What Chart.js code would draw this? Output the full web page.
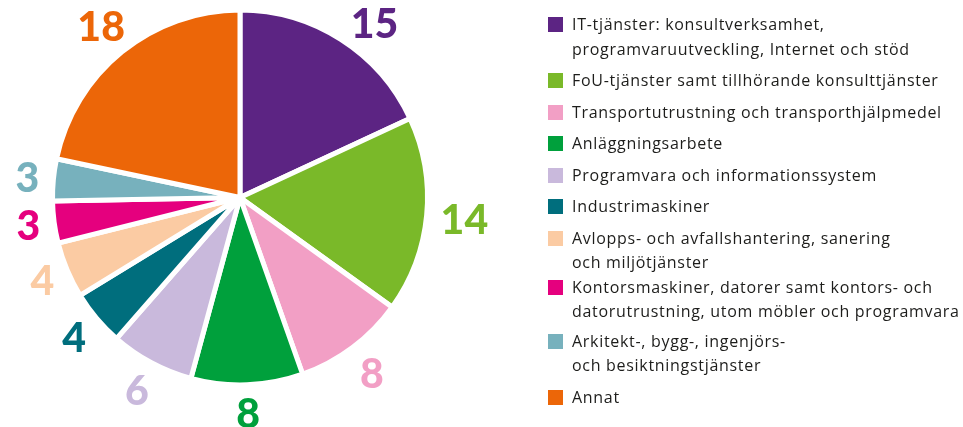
<!DOCTYPE html>
<html lang="sv">
<head>
<meta charset="utf-8">
<script src="https://cdn.jsdelivr.net/npm/chart.js@4/dist/chart.umd.min.js"></script>
<style>
  html, body { margin: 0; padding: 0; background: #ffffff; }
  #wrap { position: relative; width: 963px; height: 427px; overflow: hidden; }
  #chart { position: absolute; left: 0; top: 0; }
  #legend {
    position: absolute; left: 548px; top: 12px; margin: 0; padding: 0; list-style: none;
    font-family: "Open Sans", "Noto Sans", sans-serif; font-size: 16px; line-height: 24.5px;
    letter-spacing: 0.7px; color: #1d1d1b;
  }
  #legend li { position: relative; padding-left: 24px; margin-bottom: 7px; white-space: pre-line; }
  #legend li:nth-child(7) { margin-bottom: 0; }
  #legend li:nth-child(8) { margin-bottom: 5px; }
  #legend li span.sw { position: absolute; left: 0; top: 5px; width: 15px; height: 15px; }
</style>
</head>
<body>
<div id="wrap">
  <canvas id="chart" width="963" height="427"></canvas>
  <ul id="legend"></ul>
</div>
<script>
// Branschkategorier (legend text, line breaks as printed)
const categories = [
  "IT-tjänster: konsultverksamhet,\nprogramvaruutveckling, Internet och stöd",
  "FoU-tjänster samt tillhörande konsulttjänster",
  "Transportutrustning och transporthjälpmedel",
  "Anläggningsarbete",
  "Programvara och informationssystem",
  "Industrimaskiner",
  "Avlopps- och avfallshantering, sanering\noch miljötjänster",
  "Kontorsmaskiner, datorer samt kontors- och\ndatorutrustning, utom möbler och programvara",
  "Arkitekt-, bygg-, ingenjörs-\noch besiktningstjänster",
  "Annat"
];

// Value of each slice
const values = [15, 14, 8, 8, 6, 4, 4, 3, 3, 18];

// Slice colours
const colors = [
  "#5c2483", "#7ab929", "#f29fc5", "#00a03c", "#c9b9dc",
  "#006e7d", "#fbcba3", "#e5007e", "#77b1bd", "#ec6608"
];

// Legend
const legendEl = document.getElementById("legend");
categories.forEach((label, i) => {
  const li = document.createElement("li");
  const sw = document.createElement("span");
  sw.className = "sw";
  sw.style.background = colors[i];
  li.appendChild(sw);
  li.appendChild(document.createTextNode(label));
  legendEl.appendChild(li);
});

// Value labels outside each arc: the text box sits a fixed gap beyond the rim
// along the slice's mid-angle, and is slid sideways if it would leave the canvas top.
const outsideLabels = {
  id: "outsideLabels",
  afterDatasetsDraw(chart) {
    const ctx = chart.ctx;
    const meta = chart.getDatasetMeta(0);
    const size = 41;
    const gap = 14;
    const minTop = 8;
    ctx.save();
    ctx.font = `900 ${size}px Lato, "DejaVu Sans", sans-serif`;
    ctx.textAlign = "center";
    ctx.textBaseline = "alphabetic";
    meta.data.forEach((arc, i) => {
      const p = arc.getProps(["x", "y", "startAngle", "endAngle", "outerRadius"], true);
      const text = String(values[i]);
      const hw = ctx.measureText(text).width / 2;
      const hh = size * 0.36;
      const place = (a) => {
        const ux = Math.cos(a), uy = Math.sin(a);
        const t = Math.min(Math.abs(ux) > 1e-6 ? hw / Math.abs(ux) : Infinity,
                           Math.abs(uy) > 1e-6 ? hh / Math.abs(uy) : Infinity);
        const d = p.outerRadius + gap + t;
        return [p.x + ux * d, p.y + uy * d];
      };
      let a = (p.startAngle + p.endAngle) / 2;
      let [tx, ty] = place(a);
      // push away from 12 o'clock while the text would poke above the top
      const dir = Math.cos(a) >= 0 ? 1 : -1;
      let guard = 0;
      while (ty - hh < minTop && guard++ < 200) {
        a += dir * 0.005;
        [tx, ty] = place(a);
      }
      ctx.fillStyle = colors[i];
      ctx.fillText(text, tx, ty + hh);
    });
    ctx.restore();
  }
};

new Chart(document.getElementById("chart"), {
  type: "pie",
  data: {
    labels: categories,
    datasets: [{
      data: values,
      backgroundColor: colors,
      borderColor: "#ffffff",
      borderWidth: 5,
      hoverOffset: 0
    }]
  },
  options: {
    responsive: false,
    animation: false,
    radius: 187.5,
    layout: { padding: { left: 0, top: 0, right: 483, bottom: 32 } },
    plugins: { legend: { display: false }, tooltip: { enabled: false } },
    events: []
  },
  plugins: [outsideLabels]
});
</script>
</body>
</html>
